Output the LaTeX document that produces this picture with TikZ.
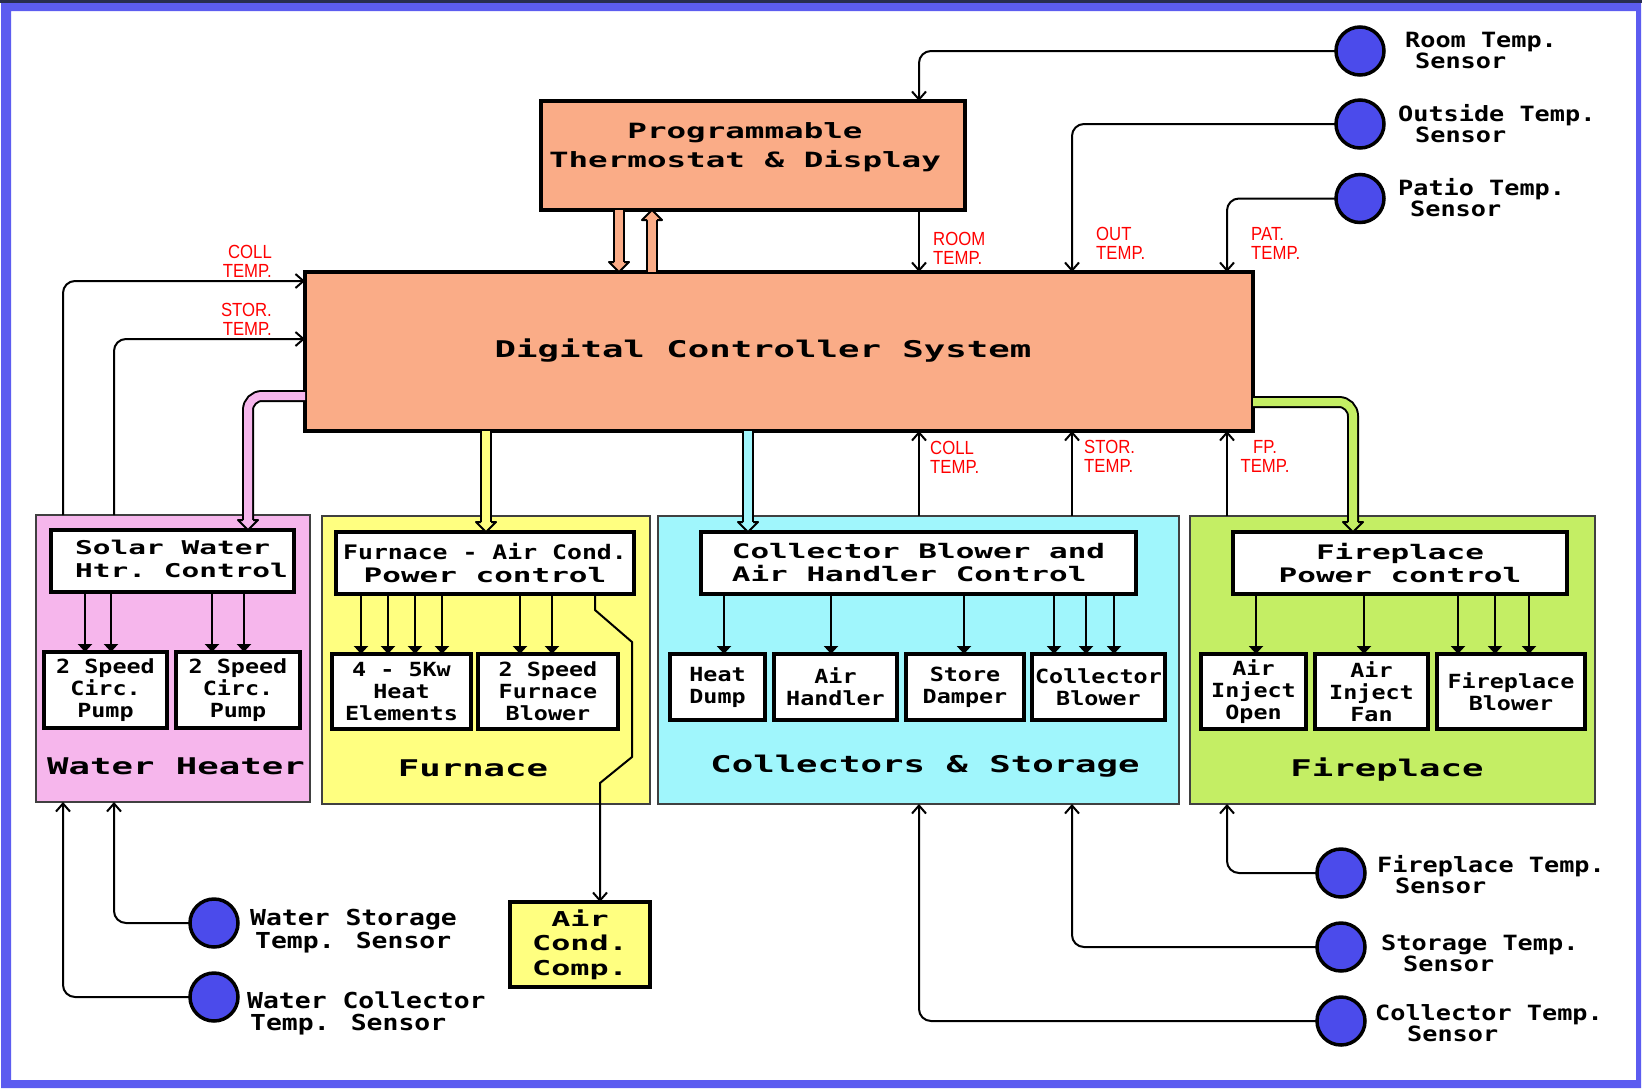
\documentclass[tikz,border=0pt]{standalone}
\usepackage{fontspec}
\usepackage{graphicx}
\usetikzlibrary{arrows.meta,calc}
\newfontfamily\dmono[FakeStretch=1.55]{DejaVu Sans Mono}
\newfontfamily\bmono[FakeStretch=1.2]{DejaVu Sans Mono}
\newfontfamily\rednarrow[FakeStretch=0.88]{Liberation Sans}
\definecolor{frameblue}{RGB}{92,92,240}
\definecolor{navyline}{RGB}{40,45,80}
\definecolor{salmon}{RGB}{250,172,135}
\definecolor{pinkbg}{RGB}{246,182,236}
\definecolor{yellowbg}{RGB}{255,255,128}
\definecolor{cyanbg}{RGB}{160,246,252}
\definecolor{greenbg}{RGB}{196,238,100}
\definecolor{sensorblue}{RGB}{75,75,235}
\tikzset{
  bigbox/.style={draw, line width=4, fill=salmon, inner sep=0, outer sep=0},
  grp/.style={draw=black!75, line width=1.5, inner sep=0, outer sep=0},
  ctlbox/.style={draw, line width=3.5, fill=white, inner sep=0, outer sep=0,
    font=\dmono\bfseries\fontsize{20}{23}\selectfont},
  outbox/.style={draw, line width=3.5, fill=white, inner sep=0, outer sep=0,
    font=\bmono\bfseries\fontsize{19.5}{22}\selectfont, align=center},
  sensor/.style={circle, draw, line width=3.5, fill=sensorblue, minimum size=48, inner sep=0, outer sep=0},
  sens/.style={line width=2, -{Straight Barb[length=8pt,width=14pt]}, rounded corners=12},
  ctl/.style={line width=2, -{Triangle[length=8pt,width=14pt]}},
  redlbl/.style={text=red, font=\rednarrow\fontsize{19}{19}\selectfont, inner sep=0},
  slbl/.style={font=\bmono\bfseries\fontsize{21}{21}\selectfont, align=left, anchor=west, inner sep=0},
  grplbl/.style={font=\dmono\bfseries\fontsize{23}{23}\selectfont, inner sep=0},
  fat/.style={line width=2, double=#1, double distance=8},
}
\newcommand\mkbox[7]{\node[#6, minimum width={#4-#2}, minimum height={#5-#3}] (#1) at ({(#2+#4)/2},{(#3+#5)/2}) {#7};}
\newcommand\fhead[2]{\filldraw[fill=#2, draw=black, line width=2, line join=round] ($(#1)+(-5,-10)$) -- ($(#1)+(-10,-10)$) -- (#1) -- ($(#1)+(10,-10)$) -- ($(#1)+(5,-10)$);}
\newcommand\fheadup[2]{\filldraw[fill=#2, draw=black, line width=2, line join=round] ($(#1)+(-5,10)$) -- ($(#1)+(-10,10)$) -- (#1) -- ($(#1)+(10,10)$) -- ($(#1)+(5,10)$);}
\begin{document}
\begin{tikzpicture}[x=1pt,y=-1pt]
\useasboundingbox (0,0) rectangle (1642,1088);
\fill[white] (0,0) rectangle (1642,1088);
\fill[navyline] (0,0) rectangle (1642,3);
\fill[frameblue, even odd rule] (1,3) rectangle (1641,1088) (11,11) rectangle (1636,1080);

% group boxes
\mkbox{wh}{36}{515}{310}{802}{grp, fill=pinkbg}{}
\mkbox{fu}{322}{516}{650}{804}{grp, fill=yellowbg}{}
\mkbox{cs}{658}{516}{1179}{804}{grp, fill=cyanbg}{}
\mkbox{fp}{1190}{516}{1595}{804}{grp, fill=greenbg}{}
\node[grplbl] (whlbl) at (176,766) {Water Heater};
\node[grplbl] (fulbl) at (473,768) {Furnace};
\node[grplbl] (cslbl) at (925,766) {Collectors \& Storage};
\node[grplbl] (fplbl) at (1387,770) {Fireplace};

% control boxes
\mkbox{solar}{51}{530}{294}{592}{ctlbox}{}
\node[font=\dmono\bfseries\fontsize{19}{23}\selectfont, align=left, anchor=west, inner sep=0] (solartxt) at (75,559) {Solar\ Water\\Htr.\ Control};
\mkbox{furnctl}{336}{532}{634}{594}{ctlbox, align=center}{\scalebox{0.8}[1]{Furnace - Air Cond.}\\Power control}
\mkbox{collctl}{701}{532}{1136}{594}{ctlbox, align=left}{Collector Blower and\\Air Handler Control}
\mkbox{fpctl}{1233}{532}{1567}{594}{ctlbox, align=center}{Fireplace\\Power control}

% output boxes
\mkbox{pump1}{44}{652}{167}{728}{outbox}{2 Speed\\Circ.\\Pump}
\mkbox{pump2}{176}{652}{300}{728}{outbox}{2 Speed\\Circ.\\Pump}
\mkbox{heatel}{332}{654}{471}{729}{outbox}{4 - 5Kw\\Heat\\Elements}
\mkbox{fblow}{478}{654}{618}{729}{outbox}{2 Speed\\Furnace\\Blower}
\mkbox{hdump}{670}{654}{765}{720}{outbox}{Heat\\Dump}
\mkbox{ahand}{774}{654}{897}{720}{outbox}{Air\\Handler}
\mkbox{sdamp}{906}{654}{1024}{720}{outbox}{Store\\Damper}
\mkbox{cblow}{1032}{654}{1165}{720}{outbox}{Collector\\Blower}
\mkbox{aopen}{1201}{654}{1306}{729}{outbox}{Air\\Inject\\Open}
\mkbox{afan}{1315}{654}{1428}{729}{outbox}{Air\\Inject\\Fan}
\mkbox{fpblow}{1437}{654}{1585}{729}{outbox}{Fireplace\\Blower}
\mkbox{ac}{510}{902}{650}{987}{ctlbox, line width=4, fill=yellowbg, font=\dmono\bfseries\fontsize{20.5}{24.5}\selectfont, align=center}{Air\\Cond.\\Comp.}

% thermostat and controller
\mkbox{thermo}{541}{101}{965}{210}{bigbox}{}
\node[font=\dmono\bfseries\fontsize{21}{29}\selectfont, align=center, inner sep=0] (thermotxt) at (745,147) {Programmable\\Thermostat \& Display};
\mkbox{ctrl}{305}{272}{1253}{431}{bigbox}{}
\node[font=\dmono\bfseries\fontsize{23}{23}\selectfont, inner sep=0] (ctrltxt) at (763,351) {Digital Controller System};

% sensors
\node[sensor] (room) at (1360,51) {};
\node[sensor] (outs) at (1360,124) {};
\node[sensor] (patio) at (1360,198.5) {};
\node[sensor] (fps) at (1341,873) {};
\node[sensor] (sts) at (1341,947) {};
\node[sensor] (cts) at (1341,1021) {};
\node[sensor] (wss) at (214,923) {};
\node[sensor] (wcs) at (214,997) {};
\node[slbl] (lroom) at (1405,50.5) {Room Temp.\\\hspace*{10pt}Sensor};
\node[slbl] (louts) at (1398,124) {Outside Temp.\\\hspace*{17pt}Sensor};
\node[slbl] (lpatio) at (1398,198) {Patio Temp.\\\hspace*{12pt}Sensor};
\node[slbl] (lfps) at (1377,875) {Fireplace Temp.\\\hspace*{18pt}Sensor};
\node[slbl] (lsts) at (1381,953.5) {Storage Temp.\\\hspace*{22pt}Sensor};
\node[slbl] (lcts) at (1375,1023.5) {Collector Temp.\\\hspace*{32pt}Sensor};
\node[slbl, font=\bmono\bfseries\fontsize{22}{23}\selectfont] (lwss) at (250,931) {Water Storage\\\hspace*{5pt}Temp. Sensor};
\node[slbl, font=\bmono\bfseries\fontsize{22}{22}\selectfont] (lwcs) at (247,1013) {Water Collector\\\hspace*{3pt}Temp. Sensor};

% helper coordinates
\coordinate (xa) at (63,0);
\coordinate (xb) at (114,0);
\coordinate (xroom) at (919,0);
\coordinate (xout) at (1072,0);
\coordinate (xpat) at (1227,0);
\coordinate (yc) at (0,281);
\coordinate (ys) at (0,339);

% thin sensor connectors
\draw[sens] (room.west) -| (xroom |- thermo.north);
\draw[sens] (xroom |- thermo.south) -- (xroom |- ctrl.north);
\draw[sens] (outs.west) -| (xout |- ctrl.north);
\draw[sens] (patio.west) -| (xpat |- ctrl.north);
\draw[sens] (xa |- wh.north) |- (yc -| ctrl.west);
\draw[sens] (xb |- wh.north) |- (ys -| ctrl.west);
\draw[sens] (xroom |- cs.north) -- (xroom |- ctrl.south);
\draw[sens] (xout |- cs.north) -- (xout |- ctrl.south);
\draw[sens] (xpat |- fp.north) -- (xpat |- ctrl.south);
\draw[sens] (fps.west) -| (xpat |- fp.south);
\draw[sens] (sts.west) -| (xout |- cs.south);
\draw[sens] (cts.west) -| (xroom |- cs.south);
\draw[sens] (wss.west) -| (xb |- wh.south);
\draw[sens] (wcs.west) -| (xa |- wh.south);
\draw[sens, sharp corners] (595,0 |- furnctl.south) -- (595,610) -- (632,642) -- (632,757) -- (600,783) -- (600,0 |- ac.north);

% control arrows
\foreach \x in {85,111} \draw[ctl] (\x,0 |- solar.south) -- (\x,0 |- pump1.north);
\foreach \x in {212,244} \draw[ctl] (\x,0 |- solar.south) -- (\x,0 |- pump2.north);
\foreach \x in {361,388,415,442} \draw[ctl] (\x,0 |- furnctl.south) -- (\x,0 |- heatel.north);
\foreach \x in {520,552} \draw[ctl] (\x,0 |- furnctl.south) -- (\x,0 |- fblow.north);
\draw[ctl] (724,0 |- collctl.south) -- (724,0 |- hdump.north);
\draw[ctl] (831,0 |- collctl.south) -- (831,0 |- ahand.north);
\draw[ctl] (964,0 |- collctl.south) -- (964,0 |- sdamp.north);
\foreach \x in {1054,1086,1114} \draw[ctl] (\x,0 |- collctl.south) -- (\x,0 |- cblow.north);
\draw[ctl] (1256,0 |- fpctl.south) -- (1256,0 |- aopen.north);
\draw[ctl] (1364,0 |- fpctl.south) -- (1364,0 |- afan.north);
\foreach \x in {1458,1495,1529} \draw[ctl] (\x,0 |- fpctl.south) -- (\x,0 |- fpblow.north);

% fat arrows
\coordinate (hd) at (619,0 |- ctrl.north);
\draw[fat=salmon] (619,0 |- thermo.south) -- ($(hd)+(0,-9)$);
\fhead{hd}{salmon}
\coordinate (hu) at (652,0 |- thermo.south);
\draw[fat=salmon] (652,0 |- ctrl.north) -- ($(hu)+(0,9)$);
\fheadup{hu}{salmon}
\coordinate (hy) at (486,0 |- furnctl.north);
\draw[fat=yellowbg] (486,0 |- ctrl.south) -- ($(hy)+(0,-9)$);
\fhead{hy}{yellowbg}
\coordinate (hc) at (748,0 |- collctl.north);
\draw[fat=cyanbg] (748,0 |- ctrl.south) -- ($(hc)+(0,-9)$);
\fhead{hc}{cyanbg}
\coordinate (pk0) at (0,396);
\coordinate (hpk) at (248,0 |- solar.north);
\draw[fat=pinkbg, rounded corners=14] (pk0 -| ctrl.west) -| ($(hpk)+(0,-9)$);
\fhead{hpk}{pinkbg}
\coordinate (gr0) at (0,402);
\coordinate (hgr) at (1353,0 |- fpctl.north);
\draw[fat=greenbg, rounded corners=14] (gr0 -| ctrl.east) -| ($(hgr)+(0,-9)$);
\fhead{hgr}{greenbg}

% red labels
\node[redlbl, anchor=east, align=right] (rlcoll) at (272,261) {COLL\\TEMP.};
\node[redlbl, anchor=east, align=right] (rlstor) at (272,319.5) {STOR.\\TEMP.};
\node[redlbl, anchor=west, align=left] (rroom) at (933,248) {ROOM\\TEMP.};
\node[redlbl, anchor=west, align=left] (rout) at (1096,243.5) {OUT\\TEMP.};
\node[redlbl, anchor=west, align=left] (rpat) at (1251,243.5) {PAT.\\TEMP.};
\node[redlbl, anchor=west, align=left] (rbcoll) at (930,457) {COLL\\TEMP.};
\node[redlbl, anchor=west, align=left] (rbstor) at (1084,456.5) {STOR.\\TEMP.};
\node[redlbl, align=center] (rfp) at (1265,456.5) {FP.\\TEMP.};
\end{tikzpicture}
\end{document}
